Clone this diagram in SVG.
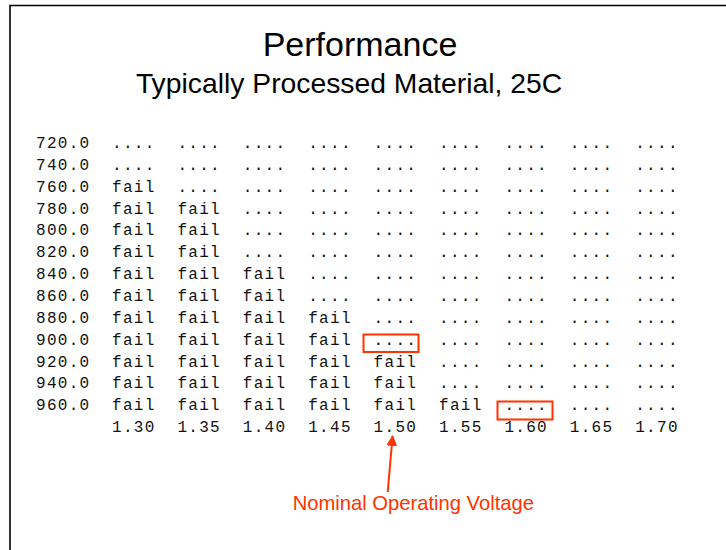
<svg xmlns="http://www.w3.org/2000/svg" width="726" height="550" viewBox="0 0 726 550">
<style>
.t{font-family:"Liberation Sans",Arial,sans-serif;fill:#000;text-anchor:middle}
.m{font-family:"Liberation Mono","Courier New",monospace;font-size:16px;letter-spacing:1.3px;fill:#111}
.hl{fill:none;stroke:#ff3300;stroke-width:2}
.lab{font-family:"Liberation Sans",Arial,sans-serif;font-size:20.2px;fill:#ff3300;text-anchor:middle}
</style>
<defs>
<marker id="ah" viewBox="0 0 10 10" refX="9" refY="5" markerWidth="5.5" markerHeight="5.5" orient="auto" markerUnits="strokeWidth">
<path d="M0,0 L10,5 L0,10 z" fill="#ff3300"/>
</marker>
</defs>
<rect width="726" height="550" fill="#fff"/>
<path d="M10,550 V5.5 H726" fill="none" stroke="#000" stroke-width="1.6"/>
<g id="title">
<text class="t" x="360" y="56" font-size="34">Performance</text>
<text class="t" x="349" y="93" font-size="28.3">Typically Processed Material, 25C</text>
</g>
<g id="table" class="m">
<text y="148"><tspan x="36">720.0</tspan><tspan x="112">....</tspan><tspan x="177.4">....</tspan><tspan x="242.8">....</tspan><tspan x="308.2">....</tspan><tspan x="373.6">....</tspan><tspan x="439">....</tspan><tspan x="504.4">....</tspan><tspan x="569.8">....</tspan><tspan x="635.2">....</tspan></text>
<text y="169.85"><tspan x="36">740.0</tspan><tspan x="112">....</tspan><tspan x="177.4">....</tspan><tspan x="242.8">....</tspan><tspan x="308.2">....</tspan><tspan x="373.6">....</tspan><tspan x="439">....</tspan><tspan x="504.4">....</tspan><tspan x="569.8">....</tspan><tspan x="635.2">....</tspan></text>
<text y="191.7"><tspan x="36">760.0</tspan><tspan x="112">fail</tspan><tspan x="177.4">....</tspan><tspan x="242.8">....</tspan><tspan x="308.2">....</tspan><tspan x="373.6">....</tspan><tspan x="439">....</tspan><tspan x="504.4">....</tspan><tspan x="569.8">....</tspan><tspan x="635.2">....</tspan></text>
<text y="213.55"><tspan x="36">780.0</tspan><tspan x="112">fail</tspan><tspan x="177.4">fail</tspan><tspan x="242.8">....</tspan><tspan x="308.2">....</tspan><tspan x="373.6">....</tspan><tspan x="439">....</tspan><tspan x="504.4">....</tspan><tspan x="569.8">....</tspan><tspan x="635.2">....</tspan></text>
<text y="235.4"><tspan x="36">800.0</tspan><tspan x="112">fail</tspan><tspan x="177.4">fail</tspan><tspan x="242.8">....</tspan><tspan x="308.2">....</tspan><tspan x="373.6">....</tspan><tspan x="439">....</tspan><tspan x="504.4">....</tspan><tspan x="569.8">....</tspan><tspan x="635.2">....</tspan></text>
<text y="257.25"><tspan x="36">820.0</tspan><tspan x="112">fail</tspan><tspan x="177.4">fail</tspan><tspan x="242.8">....</tspan><tspan x="308.2">....</tspan><tspan x="373.6">....</tspan><tspan x="439">....</tspan><tspan x="504.4">....</tspan><tspan x="569.8">....</tspan><tspan x="635.2">....</tspan></text>
<text y="279.1"><tspan x="36">840.0</tspan><tspan x="112">fail</tspan><tspan x="177.4">fail</tspan><tspan x="242.8">fail</tspan><tspan x="308.2">....</tspan><tspan x="373.6">....</tspan><tspan x="439">....</tspan><tspan x="504.4">....</tspan><tspan x="569.8">....</tspan><tspan x="635.2">....</tspan></text>
<text y="300.95"><tspan x="36">860.0</tspan><tspan x="112">fail</tspan><tspan x="177.4">fail</tspan><tspan x="242.8">fail</tspan><tspan x="308.2">....</tspan><tspan x="373.6">....</tspan><tspan x="439">....</tspan><tspan x="504.4">....</tspan><tspan x="569.8">....</tspan><tspan x="635.2">....</tspan></text>
<text y="322.8"><tspan x="36">880.0</tspan><tspan x="112">fail</tspan><tspan x="177.4">fail</tspan><tspan x="242.8">fail</tspan><tspan x="308.2">fail</tspan><tspan x="373.6">....</tspan><tspan x="439">....</tspan><tspan x="504.4">....</tspan><tspan x="569.8">....</tspan><tspan x="635.2">....</tspan></text>
<text y="344.65"><tspan x="36">900.0</tspan><tspan x="112">fail</tspan><tspan x="177.4">fail</tspan><tspan x="242.8">fail</tspan><tspan x="308.2">fail</tspan><tspan x="373.6">....</tspan><tspan x="439">....</tspan><tspan x="504.4">....</tspan><tspan x="569.8">....</tspan><tspan x="635.2">....</tspan></text>
<text y="366.5"><tspan x="36">920.0</tspan><tspan x="112">fail</tspan><tspan x="177.4">fail</tspan><tspan x="242.8">fail</tspan><tspan x="308.2">fail</tspan><tspan x="373.6">fail</tspan><tspan x="439">....</tspan><tspan x="504.4">....</tspan><tspan x="569.8">....</tspan><tspan x="635.2">....</tspan></text>
<text y="388.35"><tspan x="36">940.0</tspan><tspan x="112">fail</tspan><tspan x="177.4">fail</tspan><tspan x="242.8">fail</tspan><tspan x="308.2">fail</tspan><tspan x="373.6">fail</tspan><tspan x="439">....</tspan><tspan x="504.4">....</tspan><tspan x="569.8">....</tspan><tspan x="635.2">....</tspan></text>
<text y="410.2"><tspan x="36">960.0</tspan><tspan x="112">fail</tspan><tspan x="177.4">fail</tspan><tspan x="242.8">fail</tspan><tspan x="308.2">fail</tspan><tspan x="373.6">fail</tspan><tspan x="439">fail</tspan><tspan x="504.4">....</tspan><tspan x="569.8">....</tspan><tspan x="635.2">....</tspan></text>
<text y="432.05"><tspan x="112">1.30</tspan><tspan x="177.4">1.35</tspan><tspan x="242.8">1.40</tspan><tspan x="308.2">1.45</tspan><tspan x="373.6">1.50</tspan><tspan x="439">1.55</tspan><tspan x="504.4">1.60</tspan><tspan x="569.8">1.65</tspan><tspan x="635.2">1.70</tspan></text>
</g>
<g id="highlights">
<rect class="hl" x="363.5" y="334.5" width="55" height="17.5"/>
<rect class="hl" x="497.5" y="401.5" width="55" height="18"/>
</g>
<g id="connectors">
<line x1="387.7" y1="492" x2="392.6" y2="436" stroke="#ff3300" stroke-width="2" marker-end="url(#ah)"/>
</g>
<g id="annotation">
<text class="lab" x="413.3" y="510">Nominal Operating Voltage</text>
</g>
</svg>
